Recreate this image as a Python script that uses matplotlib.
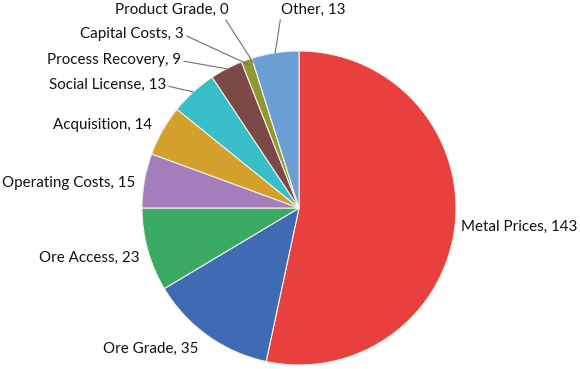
import numpy as np
import matplotlib.pyplot as plt

labels = ["Metal Prices", "Ore Grade", "Ore Access", "Operating Costs", "Acquisition",
          "Social License", "Process Recovery", "Capital Costs", "Product Grade", "Other"]
values = [143, 35, 23, 15, 14, 13, 9, 3, 0, 13]
colors = ["#E8403F", "#3E6BB4", "#3AA963", "#A47EBB", "#D3A02C",
          "#38BEC8", "#7D4848", "#8E992F", "#8E992F", "#6A9ED4"]

# label anchor (figure pixels from top-left), alignment, connector start on text bbox
label_pos = {
    "Metal Prices":     (461, 227, "left", None),
    "Ore Grade":        (103, 349, "left", None),
    "Ore Access":       (140, 258, "right", None),
    "Operating Costs":  (135, 183, "right", None),
    "Acquisition":      (152, 125, "right", None),
    "Social License":   (166, 85, "right", (1.0, 0.45)),
    "Process Recovery": (181, 60, "right", (1.0, 0.45)),
    "Capital Costs":    (184, 34, "right", (1.0, 0.45)),
    "Product Grade":    (115, 10, "left", (0.95, 0.1)),
    "Other":            (281, 10, "left", (0.0, 0.1)),
}

W, H = 580, 369
cx, cy, R = 299, 208, 157

plt.rcParams["font.family"] = ["Lato", "DejaVu Sans"]
fig = plt.figure(figsize=(W / 100, H / 100), dpi=100)
ax = fig.add_axes([0, 0, 1, 1])
wedges, _ = ax.pie(values, colors=colors, startangle=90, counterclock=False,
                   wedgeprops=dict(edgecolor="#F4F1E6", linewidth=0.8))
ax.set_xlim(-cx / R, (W - cx) / R)
ax.set_ylim(-(H - cy) / R, cy / R)
ax.set_aspect("equal")
ax.axis("off")

fs = 10.9
for w, lab, v in zip(wedges, labels, values):
    x, y, ha, rel = label_pos[lab]
    txt = f"{lab}, {v}"
    if rel is None:
        fig.text(x / W, 1 - y / H, txt, ha=ha, va="center", fontsize=fs, color="#111111")
    else:
        mid = np.deg2rad((w.theta1 + w.theta2) / 2)
        if v == 0:
            mid = np.deg2rad(w.theta1)
        r = 1.0 if v > 3 else 0.97
        ax.annotate(txt, xy=(r * np.cos(mid), r * np.sin(mid)), xycoords="data",
                    xytext=(x, H - y), textcoords="figure pixels", ha=ha, va="center",
                    fontsize=fs, color="#111111",
                    arrowprops=dict(arrowstyle="-", color="#6f6f6f", lw=0.8,
                                    relpos=rel, shrinkA=0, shrinkB=0))

fig.savefig("out.png", dpi=100)
